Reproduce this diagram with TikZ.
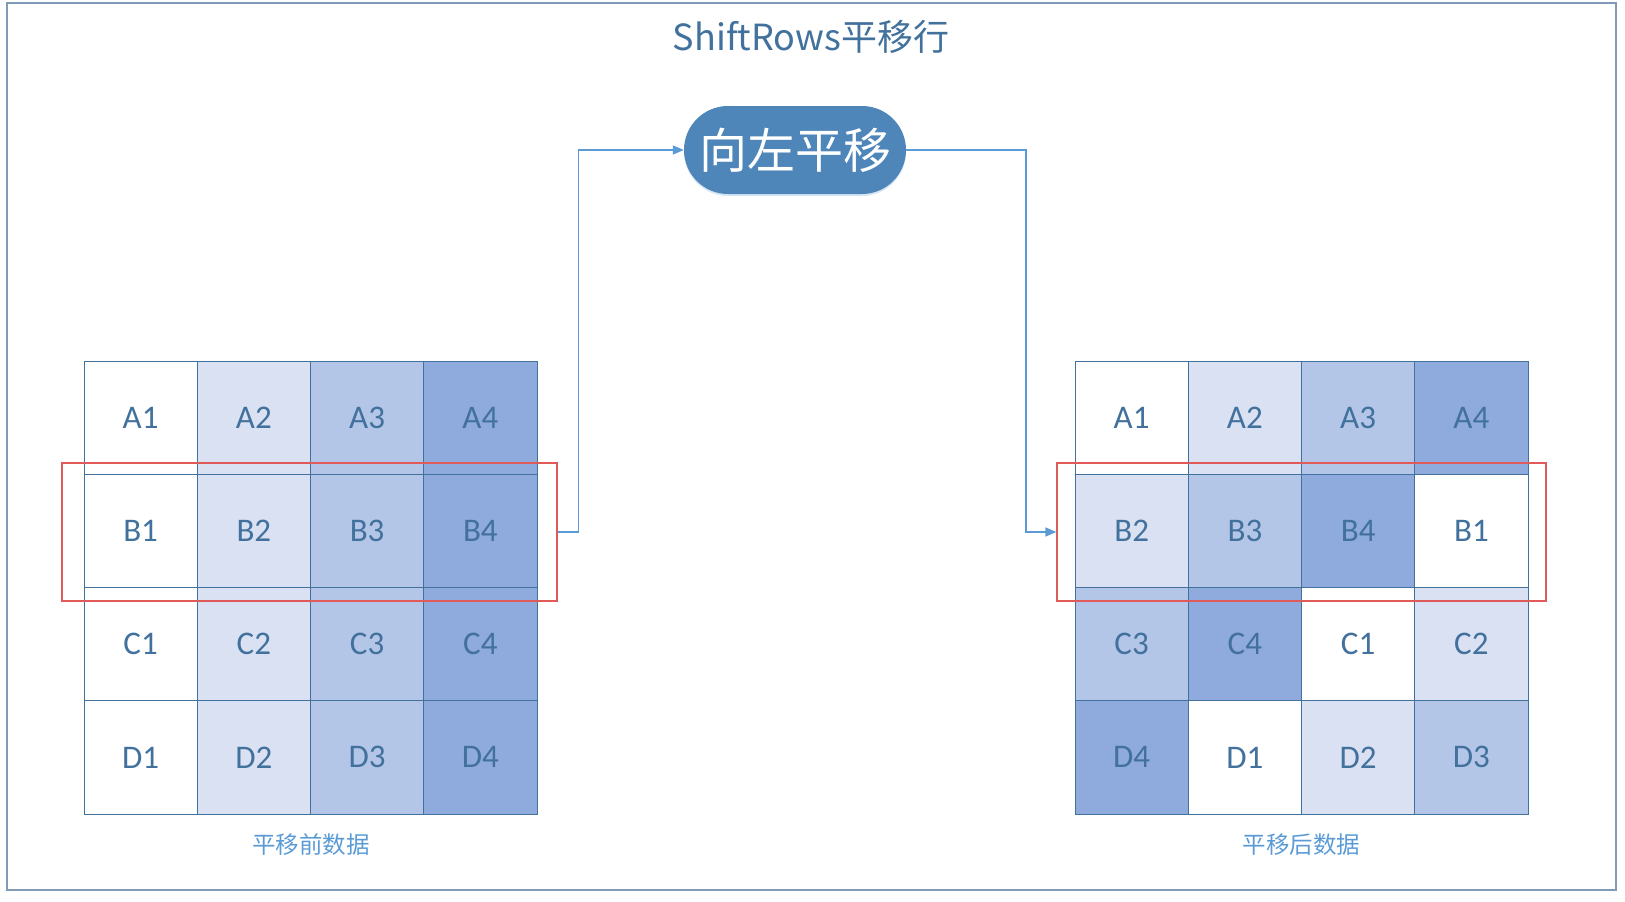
\documentclass[tikz,border=0pt]{standalone}
\usepackage{fontspec}
\setmainfont{Carlito}
\newfontfamily\cjk{Noto Sans CJK SC}
\usetikzlibrary{arrows.meta,shadows}

\definecolor{txtblue}{HTML}{41719C}
\definecolor{lineblue}{HTML}{5B9BD5}
\definecolor{pillblue}{HTML}{4F86BA}
\definecolor{redline}{HTML}{E05A5A}
\definecolor{framegray}{HTML}{7F9BB6}
\colorlet{shade0}{white}
\definecolor{shade1}{HTML}{DAE1F2}
\definecolor{shade2}{HTML}{B4C6E7}
\definecolor{shade3}{HTML}{8FAADC}

\begin{document}
\begin{tikzpicture}[x=1pt,y=-1pt,
  cell/.style={draw=txtblue, line width=1pt, minimum size=113.25pt,
    inner sep=0pt, outer sep=0pt, text=txtblue,
    font=\fontsize{33}{33}\selectfont},
  redbox/.style={draw=redline, line width=1.3pt, inner sep=0pt},
  pill/.style={fill=pillblue, text=white, rounded corners=44pt,
    minimum width=222pt, minimum height=88pt, inner sep=0pt,
    font=\cjk\fontsize{48}{48}\selectfont,
    drop shadow={shadow xshift=0pt, shadow yshift=-2pt, opacity=0.25, fill=lineblue}},
  title/.style={text=txtblue, font=\cjk\fontsize{36}{36}\selectfont},
  caption/.style={text=lineblue, font=\cjk\fontsize{23.5}{23.5}\selectfont},
  flow/.style={draw=lineblue, line width=1.5pt, -{Triangle[length=11pt,width=9pt]}}]
\useasboundingbox (0,0) rectangle (1625,902);
% outer frame
\draw[framegray, line width=1.5pt] (7,3) rectangle (1616,890);
\node[title] (title) at (811,37) {ShiftRows平移行};

% grid before shift
\foreach \r/\i in {A/1,B/2,C/3,D/4}
  \foreach \j in {1,...,4} {
    \pgfmathtruncatemacro{\k}{\j-1}
    \node[cell, fill=shade\k] (L\r\j) at ({84+113.25*(\j-0.5)},{361+113.25*(\i-0.5)}) {\r\j};
  }
% grid after shift
\foreach \r/\i in {A/1,B/2,C/3,D/4}
  \foreach \j in {1,...,4} {
    \pgfmathtruncatemacro{\k}{mod(\j+\i-2,4)}
    \pgfmathtruncatemacro{\n}{\k+1}
    \node[cell, fill=shade\k] (R\r\j) at ({1075+113.25*(\j-0.5)},{361+113.25*(\i-0.5)}) {\r\n};
  }

\node[redbox, minimum width=495pt, minimum height=138pt] (lred) at (309.5,532) {};
\node[redbox, minimum width=489pt, minimum height=138pt] (rred) at (1301.5,532) {};

\node[caption] (lcap) at (311,845) {平移前数据};
\node[caption] (rcap) at (1301.5,845) {平移后数据};

\node[pill] (shift) at (795,150) {向左平移};
\coordinate (bend) at (1026,532);

\draw[flow] (lred.east) -- ++(21,0) |- (shift.west);
\draw[flow] (shift.east) -| (bend) -- (rred.west);
\end{tikzpicture}
\end{document}
